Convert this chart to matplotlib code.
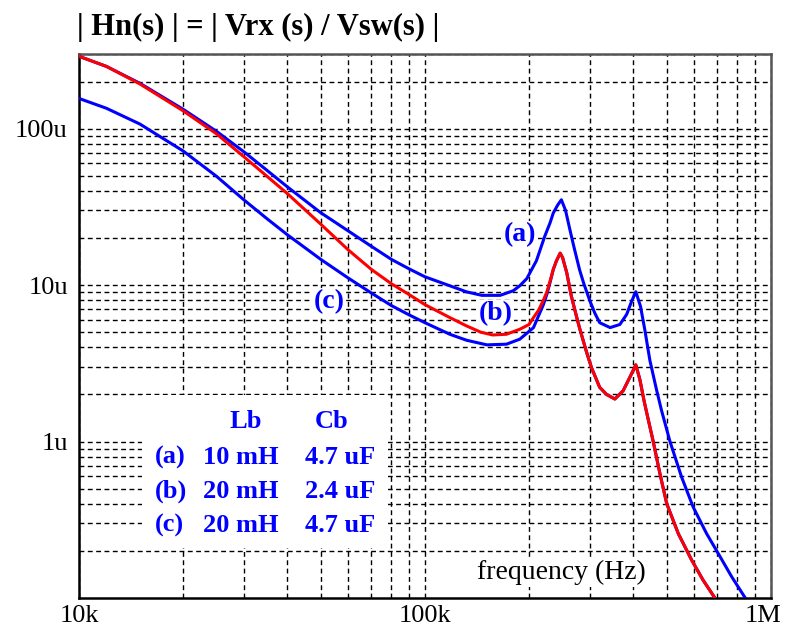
import numpy as np
import matplotlib
matplotlib.use("Agg")
import matplotlib.pyplot as plt
from matplotlib.patches import Rectangle
from matplotlib.transforms import ScaledTranslation

# valores: frecuencia en kHz, |Hn| en micro (u)
f_a = [10, 12, 15, 20, 25, 30, 35, 40, 50, 60, 70, 80, 90, 100, 118, 132, 146, 165, 180,
       188, 197, 210, 222, 230, 235, 242, 248, 255, 262, 270, 280, 288, 300, 310, 320,
       343, 366, 383, 396, 407, 420, 432, 447, 467, 483, 511, 552, 596, 652, 704, 770, 841]
h_a = [290, 250, 195, 133, 96, 71, 54, 42.5, 29, 22.2, 17.7, 14.6, 12.7, 11.3, 9.9, 9.05,
       8.6, 8.6, 9.2, 9.9, 11.0, 14.3, 20.5, 25, 28.9, 32.5, 35.1, 30, 23, 17.3, 12.5, 10.2,
       7.9, 6.6, 5.75, 5.35, 5.6, 6.5, 7.9, 9.07, 7.3, 5.2, 3.3, 2.15, 1.58, 1.0, 0.593,
       0.382, 0.258, 0.193, 0.137, 0.101]

f_b = [10, 12, 15, 20, 25, 30, 35, 40, 50, 60, 70, 80, 90, 100, 118, 132, 145, 157, 172,
       188, 200, 206, 213, 220, 225, 230, 235, 240, 246, 250, 257, 265, 274, 280, 293,
       303, 320, 335, 354, 374, 391, 407, 418, 430, 437, 457, 478, 500, 540, 590, 637, 689]
h_b = [290, 250, 193, 130, 92.5, 66, 49.5, 38.5, 24.5, 16.8, 12.6, 10.2, 8.7, 7.5, 6.2, 5.48,
       5.0, 4.8, 4.85, 5.22, 5.6, 6.2, 6.9, 8.0, 9.0, 10.6, 12.6, 14.3, 16.0, 15.0, 12.0,
       8.5, 6.35, 5.3, 3.75, 2.97, 2.22, 2.0, 1.87, 2.11, 2.57, 3.09, 2.5, 1.82, 1.55, 1.0,
       0.622, 0.401, 0.258, 0.175, 0.130, 0.100]

f_c = [10, 12, 15, 20, 25, 30, 35, 40, 50, 60, 70, 80, 90, 100, 118, 132, 151, 172, 188,
       206, 220, 225, 230, 235, 240, 246, 250, 257, 265, 274, 280, 293, 303, 320, 335, 354,
       374, 391, 407, 418, 430, 437, 457, 478, 500, 540, 590, 637, 689]
h_c = [156, 135, 107, 72, 49.5, 35, 26.5, 21, 14.6, 11.1, 8.9, 7.4, 6.45, 5.75, 4.85, 4.44,
       4.15, 4.19, 4.51, 5.35, 7.5, 8.7, 10.4, 12.6, 14.3, 16.0, 15.0, 12.0, 8.5, 6.35, 5.3,
       3.75, 2.97, 2.22, 2.0, 1.87, 2.11, 2.57, 3.09, 2.5, 1.82, 1.55, 1.0, 0.622, 0.401,
       0.258, 0.175, 0.130, 0.100]

xticks = [1e4, 1e5, 1e6]
xlabels = ["10k", "100k", "1M"]
yticks = [1e-6, 1e-5, 1e-4]
ylabels = ["1u", "10u", "100u"]

filas = [("(a)", "10 mH", "4.7 uF"), ("(b)", "20 mH", "2.4 uF"), ("(c)", "20 mH", "4.7 uF")]

plt.rcParams["font.family"] = ["Liberation Serif", "DejaVu Serif"]

fig = plt.figure(figsize=(7.85, 6.3), dpi=100)
ax = fig.add_axes([0.1006, 0.0508, 0.8814, 0.8635])
ax.set_xscale("log")
ax.set_yscale("log")
ax.set_xlim(1e4, 1e6)
ax.set_ylim(1e-7, 3e-4)

ax.set_axisbelow(True)
ax.grid(True, which="both", color="black", linestyle=(0, (3.5, 2.5)), linewidth=1.0)

azul = "#0000ff"
rojo = "#ff0000"
ax.plot(np.array(f_c) * 1e3, np.array(h_c) * 1e-6, color=azul, lw=2.2, zorder=3)
ax.plot(np.array(f_a) * 1e3, np.array(h_a) * 1e-6, color=azul, lw=2.2, zorder=3)
ax.plot(np.array(f_b) * 1e3, np.array(h_b) * 1e-6, color=rojo, lw=2.2, zorder=4)

# caja blanca de la tabla
ax.add_patch(Rectangle((15.2e3, 0.209e-6), 78e3 - 15.2e3, 1.97e-6 - 0.209e-6,
                       facecolor="white", edgecolor="none", zorder=1))

ax.set_xticks(xticks)
ax.set_xticklabels(xlabels)
ax.set_yticks(yticks)
ax.set_yticklabels(ylabels)
ax.minorticks_on()
ax.tick_params(which="both", length=0)
ax.tick_params(axis="x", which="minor", labelbottom=False)
ax.tick_params(axis="y", which="minor", labelleft=False)
ax.tick_params(axis="x", labelsize=19, pad=5)
ax.tick_params(axis="y", labelsize=19, pad=8)
ultimo = ax.get_xticklabels()[-1]
ultimo.set_transform(ultimo.get_transform() + ScaledTranslation(-0.08, 0, fig.dpi_scale_trans))

for lado in ["left", "bottom"]:
    ax.spines[lado].set_color("black")
    ax.spines[lado].set_linewidth(1.8)
for lado in ["top", "right"]:
    ax.spines[lado].set_color("#555555")
    ax.spines[lado].set_linewidth(1.8)

fondo = dict(facecolor="white", edgecolor="none", pad=1)
fig.text(520 / 785, 1 - 235 / 630, "(a)", color=azul, fontsize=20, fontweight="bold",
         ha="center", va="center", bbox=fondo)
fig.text(496 / 785, 1 - 314 / 630, "(b)", color=azul, fontsize=20, fontweight="bold",
         ha="center", va="center", bbox=fondo)
fig.text(329 / 785, 1 - 302 / 630, "(c)", color=azul, fontsize=20, fontweight="bold",
         ha="center", va="center", bbox=fondo)

fig.text(246 / 785, 1 - 422 / 630, "Lb", color=azul, fontsize=19, fontweight="bold",
         ha="center", va="center")
fig.text(332 / 785, 1 - 422 / 630, "Cb", color=azul, fontsize=19, fontweight="bold",
         ha="center", va="center")
for i, (letra, lb, cb) in enumerate(filas):
    y = 1 - (457 + 34 * i) / 630
    fig.text(155 / 785, y, letra, color=azul, fontsize=19, fontweight="bold",
             ha="left", va="center")
    fig.text(241 / 785, y, lb, color=azul, fontsize=19, fontweight="bold",
             ha="center", va="center")
    fig.text(340 / 785, y, cb, color=azul, fontsize=19, fontweight="bold",
             ha="center", va="center")

fig.text(561 / 785, 1 - 572 / 630, "frequency (Hz)", color="black", fontsize=20,
         ha="center", va="center", bbox=dict(facecolor="white", edgecolor="none", pad=2))

fig.text(77 / 785, 1 - 27 / 630, "| Hn(s) | = | Vrx (s) / Vsw(s) |", color="black",
         fontsize=22, fontweight="bold", ha="left", va="center")

fig.savefig("out.png", dpi=100)
